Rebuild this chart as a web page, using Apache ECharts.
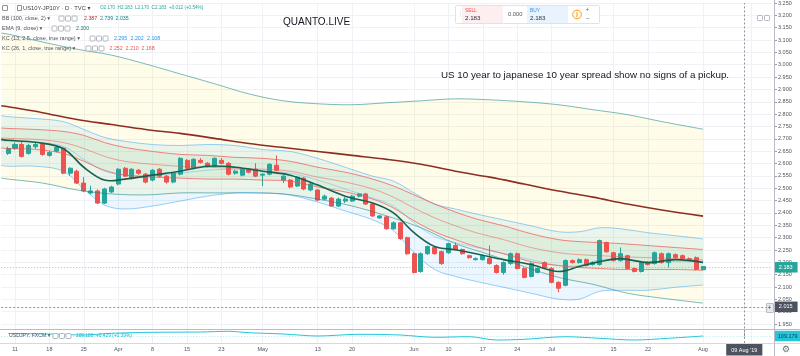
<!DOCTYPE html>
<html>
<head>
<meta charset="utf-8">
<script src="https://cdn.jsdelivr.net/npm/echarts@6.0.0/dist/echarts.min.js"></script>
<style>
html,body{margin:0;padding:0;background:#ffffff;}
#chart{width:800px;height:356px;}
</style>
</head>
<body>
<div id="chart"></div>
<script>
// ---------------- data ----------------
const leadDate = '2019-03-07';
const dates = [
 '2019-03-08','2019-03-11','2019-03-12','2019-03-13','2019-03-14','2019-03-15',
 '2019-03-18','2019-03-19','2019-03-20','2019-03-21','2019-03-22',
 '2019-03-25','2019-03-26','2019-03-27','2019-03-28','2019-03-29',
 '2019-04-01','2019-04-02','2019-04-03','2019-04-04','2019-04-05',
 '2019-04-08','2019-04-09','2019-04-10','2019-04-11','2019-04-12',
 '2019-04-15','2019-04-16','2019-04-17','2019-04-18','2019-04-19',
 '2019-04-23','2019-04-24','2019-04-25','2019-04-26','2019-04-29','2019-04-30',
 '2019-05-01','2019-05-02','2019-05-03',
 '2019-05-06','2019-05-07','2019-05-08','2019-05-09','2019-05-10',
 '2019-05-13','2019-05-14','2019-05-15','2019-05-16','2019-05-17',
 '2019-05-20','2019-05-21','2019-05-22','2019-05-23','2019-05-24',
 '2019-05-28','2019-05-29','2019-05-30','2019-05-31',
 '2019-06-03','2019-06-04','2019-06-05','2019-06-06','2019-06-07',
 '2019-06-10','2019-06-11','2019-06-12','2019-06-13','2019-06-14',
 '2019-06-17','2019-06-18','2019-06-19','2019-06-20','2019-06-21',
 '2019-06-24','2019-06-25','2019-06-26','2019-06-27','2019-06-28',
 '2019-07-01','2019-07-02','2019-07-03','2019-07-05',
 '2019-07-08','2019-07-09','2019-07-10','2019-07-11','2019-07-12',
 '2019-07-15','2019-07-16','2019-07-17','2019-07-18','2019-07-19',
 '2019-07-22','2019-07-23','2019-07-24','2019-07-25','2019-07-26',
 '2019-07-29','2019-07-30','2019-07-31','2019-08-01'
];
const futureDates = ['2019-08-02','2019-08-05','2019-08-06','2019-08-07','2019-08-08','2019-08-09','2019-08-12','2019-08-13','2019-08-14','2019-08-15'];

// [open, close, low, high]
const candles = [
 [2.641,2.661,2.635,2.668],[2.661,2.677,2.655,2.685],[2.677,2.629,2.625,2.690],[2.641,2.673,2.636,2.680],
 [2.668,2.677,2.660,2.684],[2.677,2.637,2.632,2.684],[2.633,2.645,2.628,2.650],[2.650,2.665,2.645,2.672],
 [2.662,2.561,2.557,2.667],[2.561,2.581,2.550,2.585],[2.569,2.521,2.517,2.575],[2.521,2.489,2.484,2.545],
 [2.481,2.489,2.475,2.510],[2.489,2.440,2.436,2.495],[2.440,2.497,2.436,2.502],[2.485,2.505,2.480,2.510],
 [2.517,2.577,2.512,2.581],[2.581,2.549,2.545,2.586],[2.541,2.577,2.535,2.581],[2.573,2.561,2.555,2.578],
 [2.557,2.525,2.520,2.562],[2.533,2.573,2.528,2.578],[2.577,2.549,2.544,2.582],[2.549,2.525,2.519,2.553],
 [2.525,2.561,2.520,2.566],[2.557,2.621,2.552,2.626],[2.613,2.581,2.576,2.618],[2.581,2.617,2.576,2.622],
 [2.613,2.605,2.600,2.622],[2.601,2.589,2.584,2.606],[2.589,2.621,2.585,2.625],[2.613,2.601,2.597,2.622],
 [2.601,2.557,2.552,2.606],[2.561,2.569,2.555,2.575],[2.553,2.577,2.548,2.581],[2.577,2.565,2.560,2.581],
 [2.577,2.549,2.545,2.601],[2.553,2.557,2.509,2.561],[2.557,2.597,2.552,2.601],[2.593,2.573,2.569,2.633],
 [2.533,2.549,2.521,2.553],[2.533,2.505,2.500,2.537],[2.509,2.545,2.505,2.549],[2.541,2.497,2.492,2.545],
 [2.493,2.517,2.488,2.521],[2.493,2.452,2.448,2.497],[2.456,2.468,2.452,2.474],[2.460,2.428,2.424,2.464],
 [2.428,2.456,2.424,2.462],[2.448,2.456,2.440,2.464],[2.448,2.468,2.444,2.473],[2.468,2.477,2.463,2.481],
 [2.477,2.436,2.432,2.481],[2.436,2.388,2.384,2.440],[2.380,2.388,2.376,2.392],[2.384,2.336,2.332,2.389],
 [2.336,2.360,2.332,2.366],[2.360,2.296,2.291,2.364],[2.300,2.235,2.230,2.304],[2.235,2.159,2.155,2.240],
 [2.163,2.235,2.158,2.240],[2.235,2.264,2.230,2.268],[2.260,2.235,2.231,2.264],[2.243,2.195,2.190,2.248],
 [2.239,2.276,2.234,2.280],[2.268,2.252,2.248,2.280],[2.252,2.235,2.231,2.256],[2.227,2.219,2.215,2.231],
 [2.211,2.215,2.207,2.220],[2.211,2.227,2.207,2.232],[2.215,2.195,2.191,2.268],[2.187,2.159,2.155,2.192],
 [2.159,2.199,2.150,2.204],[2.195,2.235,2.190,2.240],[2.235,2.175,2.171,2.240],[2.175,2.139,2.135,2.180],
 [2.143,2.195,2.139,2.200],[2.159,2.175,2.155,2.180],[2.199,2.179,2.175,2.204],[2.175,2.119,2.115,2.180],
 [2.119,2.095,2.079,2.123],[2.107,2.207,2.103,2.212],[2.207,2.199,2.195,2.212],[2.199,2.211,2.195,2.216],
 [2.211,2.187,2.183,2.216],[2.191,2.199,2.187,2.204],[2.191,2.288,2.187,2.292],[2.280,2.243,2.239,2.284],
 [2.239,2.207,2.203,2.243],[2.207,2.235,2.203,2.260],[2.227,2.175,2.171,2.231],[2.175,2.163,2.159,2.179],
 [2.163,2.199,2.159,2.204],[2.199,2.191,2.187,2.204],[2.195,2.239,2.191,2.244],[2.235,2.199,2.195,2.240],
 [2.199,2.235,2.179,2.240],[2.231,2.219,2.215,2.236],[2.227,2.215,2.211,2.232],[2.215,2.211,2.207,2.220],
 [2.219,2.171,2.167,2.224],[2.170,2.183,2.170,2.183]
];

// indicator samples (bar index, -1 = the day before the first visible bar)
const indIdx   = [-1,0,4,8,11,14,17,21,25,29,33,37,41,45,49,53,56,59,62,65,68,72,76,80,83,86,89,93,97,101];
const ema9     = [2.698,2.694,2.686,2.661,2.585,2.533,2.537,2.553,2.569,2.589,2.585,2.569,2.553,2.513,2.468,2.440,2.400,2.320,2.264,2.251,2.235,2.211,2.191,2.163,2.183,2.203,2.215,2.199,2.211,2.200];
const kc13Up   = [2.794,2.790,2.782,2.770,2.738,2.706,2.690,2.677,2.673,2.677,2.673,2.657,2.649,2.621,2.585,2.549,2.529,2.481,2.436,2.416,2.396,2.372,2.348,2.324,2.324,2.340,2.336,2.320,2.308,2.295];
const kc13Mid  = [2.694,2.690,2.686,2.670,2.617,2.569,2.553,2.553,2.561,2.573,2.577,2.569,2.561,2.533,2.497,2.460,2.428,2.360,2.304,2.280,2.260,2.235,2.211,2.187,2.187,2.211,2.211,2.203,2.203,2.202];
const kc13Low  = [2.593,2.589,2.589,2.569,2.497,2.432,2.416,2.428,2.448,2.468,2.481,2.481,2.472,2.444,2.408,2.372,2.328,2.239,2.171,2.143,2.123,2.099,2.075,2.051,2.051,2.083,2.087,2.087,2.099,2.108];
const kc26Up   = [2.744,2.742,2.738,2.730,2.714,2.685,2.665,2.649,2.637,2.633,2.625,2.621,2.609,2.585,2.565,2.537,2.509,2.473,2.436,2.404,2.376,2.348,2.316,2.292,2.284,2.280,2.276,2.268,2.260,2.252];
const kc26Mid  = [2.704,2.702,2.698,2.685,2.661,2.629,2.609,2.597,2.589,2.585,2.581,2.577,2.569,2.545,2.525,2.497,2.464,2.420,2.380,2.348,2.320,2.292,2.260,2.239,2.231,2.227,2.223,2.219,2.215,2.210];
const kc26Low  = [2.663,2.661,2.657,2.641,2.609,2.573,2.553,2.545,2.541,2.537,2.537,2.533,2.529,2.505,2.485,2.456,2.420,2.368,2.324,2.292,2.264,2.235,2.203,2.187,2.179,2.175,2.171,2.171,2.171,2.168];

const bbIdx    = [-1,0,5,10,15,20,25,30,35,40,45,50,55,60,65,70,75,80,85,90,95,101];
const bbUp     = [3.128,3.124,3.092,3.063,3.039,3.003,2.963,2.923,2.882,2.854,2.842,2.838,2.846,2.854,2.862,2.858,2.850,2.838,2.818,2.798,2.770,2.739];
const bbMid    = [2.834,2.830,2.806,2.778,2.758,2.738,2.722,2.702,2.681,2.665,2.649,2.633,2.617,2.597,2.569,2.545,2.517,2.489,2.464,2.436,2.412,2.387];
const bbLow    = [2.541,2.537,2.521,2.493,2.477,2.473,2.481,2.481,2.481,2.477,2.456,2.428,2.388,2.340,2.276,2.231,2.183,2.139,2.111,2.075,2.055,2.035];

const usdIdx   = [0,6,11,15,21,28,32,35,40,45,51,57,62,67,71,75,81,86,91,96,101];
const usdVal   = [110.43,110.18,109.68,110.53,111.03,111.18,111.53,110.83,110.18,109.18,110.03,109.68,108.53,108.83,107.18,107.53,108.83,108.03,107.18,108.03,109.179];

const tickDates  = ['2019-03-11','2019-03-18','2019-03-25','2019-04-01','2019-04-08','2019-04-15','2019-04-23','2019-05-01','2019-05-13','2019-05-20','2019-06-03','2019-06-10','2019-06-17','2019-06-24','2019-07-01','2019-07-15','2019-07-22','2019-08-01','2019-08-12'];
const tickLabels = ['11','18','25','Apr','8','15','23','May','13','20','Jun','10','17','24','Jul','15','22','Aug','12'];

const crossPrice = 2.015;
const crossDate = '2019-08-09';
const crossLabel = "09 Aug '19";

// ---------------- chart ----------------
const FF = '"Liberation Sans", "DejaVu Sans", Arial, sans-serif';
const OFF = 1;
const categories = [leadDate].concat(dates, futureDates);
const labelMap = {};
tickDates.forEach((d, k) => { labelMap[d] = tickLabels[k]; });
const isTick = (idx, val) => Object.prototype.hasOwnProperty.call(labelMap, val);
const lastClose = candles[candles.length - 1][1];

function pts(idxArr, vals) { return idxArr.map((ix, k) => [ix + OFF, vals[k]]); }
function curve(idxArr, vals, color, width) {
  const d = pts(idxArr, vals);
  return {
    type: 'custom', coordinateSystem: 'cartesian2d', xAxisIndex: 0, yAxisIndex: 0,
    z: 4, silent: true, clip: true, data: [d[0]],
    renderItem: function (params, api) {
      return { type: 'polyline', shape: { points: d.map(p => api.coord(p)), smooth: 0.35 },
               style: { stroke: color, lineWidth: width, fill: null } };
    }
  };
}
function band(idxArr, up, lo, color) {
  const u = pts(idxArr, up), l = pts(idxArr, lo).reverse();
  // end points doubled so the closed smooth outline keeps straight ends
  const ring = [u[0]].concat(u, [u[u.length - 1]], [l[0]], l, [l[l.length - 1]]);
  return {
    type: 'custom', coordinateSystem: 'cartesian2d', xAxisIndex: 0, yAxisIndex: 0,
    z: 1, silent: true, clip: true, data: [u[0]],
    renderItem: function (params, api) {
      return { type: 'polygon', shape: { points: ring.map(p => api.coord(p)), smooth: 0.35 },
               style: { fill: color } };
    }
  };
}

function txt(x, y, s, color, size, weight, family) {
  return { type: 'text', x: x, y: y, silent: true, z: 100,
    style: { text: s, fill: color, font: (weight || 'normal') + ' ' + (size || 5.5) + 'px ' + (family || FF), verticalAlign: 'middle', align: 'left' } };
}
function rect(x, y, w, h, fill, stroke, r, z) {
  return { type: 'rect', silent: true, z: z || 99, shape: { x: x, y: y, width: w, height: h, r: r || 0 },
    style: { fill: fill || 'none', stroke: stroke || 'none', lineWidth: 1 } };
}
function hline(x1, x2, y, color) { return { type: 'line', silent: true, z: 50, shape: { x1: x1, y1: y, x2: x2, y2: y }, style: { stroke: color, lineWidth: 1 } }; }
function vline(x, y1, y2, color) { return { type: 'line', silent: true, z: 50, shape: { x1: x, y1: y1, x2: x, y2: y2 }, style: { stroke: color, lineWidth: 1 } }; }
function icons(x0, y) {
  return [rect(x0, y - 2.5, 5, 5, '#fff', '#b4b7bf', 0.8), rect(x0 + 6.5, y - 2.5, 5, 5, '#fff', '#b4b7bf', 0.8), rect(x0 + 13, y - 2.5, 5, 5, '#fff', '#b4b7bf', 0.8)];
}

const gray = '#50535e';
const graphics = [].concat(
  [hline(0, 800, 329.5, '#b9bcc4'), hline(0, 800, 343.5, '#d6d8de'), vline(774.5, 0, 356, '#b9bcc4')],
  // legend row 1
  [rect(2.5, 5.5, 5, 5, '#fff', '#8d9099', 0.5), rect(17.5, 5.5, 4, 5, 'none', '#8d9099', 0),
   txt(23, 8, 'US10Y-JP10Y · D · TVC ▾', '#3f424b', 5.8),
   txt(100, 8, 'O2.170  H2.183  L2.170  C2.183  +0.012 (+0.54%)', '#26a69a', 4.6)],
  // row 2 BB
  [txt(2, 18.5, 'BB (100, close, 2) ▾', gray, 5.5)], icons(59, 18.5),
  [txt(84, 18.5, '2.387', '#b2322a', 5.3), txt(100, 18.5, '2.739', '#138484', 5.3), txt(115.5, 18.5, '2.035', '#138484', 5.3)],
  // row 3 EMA
  [txt(2, 28.5, 'EMA (9, close) ▾', gray, 5.5)], icons(52, 28.5), [txt(76, 28.5, '2.200', '#1e7a64', 5.3)],
  // row 4 KC13
  [txt(2, 38.5, 'KC (13, 2.5, close, true range) ▾', gray, 5.5)], icons(90, 38.5),
  [txt(114, 38.5, '2.295', '#2196f3', 5.3), txt(130.5, 38.5, '2.202', '#2196f3', 5.3), txt(147, 38.5, '2.108', '#2196f3', 5.3)],
  // row 5 KC26
  [txt(2, 48.5, 'KC (26, 1, close, true range) ▾', gray, 5.5)], icons(86, 48.5),
  [txt(109.5, 48.5, '2.252', '#ef5350', 5.3), txt(125.5, 48.5, '2.210', '#ef5350', 5.3), txt(141.5, 48.5, '2.168', '#ef5350', 5.3)],
  // lower pane legend
  [txt(9, 336, 'USDJPY, FXCM ▾', gray, 5.2)], icons(53, 336),
  [txt(76, 336, '109.180  +0.429 (+0.39%)', '#00bcd4', 4.8)],
  // annotations
  [txt(283, 22.5, 'QUANTO.LIVE', '#131722', 10), txt(441, 75, 'US 10 year to japanese 10 year spread show no signs of a pickup.', '#131722', 9.8)],
  // buy/sell widget
  [rect(455.5, 5.5, 144, 18, '#ffffff', '#dfe2e8', 1),
   rect(462, 6, 41, 17, '#fdeef0', 'none', 0), rect(527, 6, 41, 17, '#e9f3fd', 'none', 0),
   txt(457.5, 14.5, '⋮', '#b0b3bb', 6),
   txt(465, 10.5, 'SELL', '#ef5350', 4.8), txt(465, 18, '2.183', '#2a2e39', 6.2),
   txt(508, 14.5, '0.000', '#50535e', 5.8),
   txt(530, 10.5, 'BUY', '#2196f3', 4.8), txt(530, 18, '2.183', '#2a2e39', 6.2),
   { type: 'circle', silent: true, z: 100, shape: { cx: 577, cy: 14.5, r: 4.3 }, style: { fill: '#fff', stroke: '#ff9800', lineWidth: 1 } },
   rect(576.5, 12, 1, 5, '#ff9800', 'none', 0, 101),
   vline(583.5, 6, 23, '#e4e6eb'),
   txt(585.5, 10, '+', '#6a6d78', 6.5), txt(586, 19, '−', '#6a6d78', 6.5)],
  // small top-right icons
  [rect(757.5, 15.5, 5, 5, '#fff', '#b4b7bf', 0.8), rect(764.5, 15.5, 5, 5, '#fff', '#b4b7bf', 0.8)],
  // crosshair price-scale "+" button
  [rect(766.5, 303.5, 7, 9, '#e6e8ec', '#b9bcc4', 0.5), txt(767.6, 308, '+', '#3f424b', 6.5)],
  // gear
  [txt(782, 349.5, '⚙', '#6a6d78', 9, 'normal', '"DejaVu Sans", sans-serif')]
);

const series = [
  band(bbIdx, bbUp, bbLow, 'rgba(255,235,59,0.11)'),
  band(indIdx, kc13Up, kc13Low, 'rgba(33,150,243,0.09)'),
  band(indIdx, kc26Up, kc26Low, 'rgba(76,175,80,0.08)'),
  {
    type: 'candlestick', xAxisIndex: 0, yAxisIndex: 0, z: 2, clip: false, barWidth: 4.5,
    data: candles.map((c, i) => [i + OFF, c[0], c[1], c[2], c[3]]),
    encode: { x: 0, y: [1, 2, 3, 4] },
    itemStyle: { color: '#26a69a', color0: '#ef5350', borderColor: '#26a69a', borderColor0: '#ef5350', borderWidth: 1 },
    markLine: {
      symbol: ['none', 'none'], silent: true, animation: false,
      data: [
        { yAxis: lastClose, lineStyle: { color: 'rgba(38,166,154,0.55)', type: [1, 2], width: 1 },
          label: { show: true, position: 'end', distance: 3, formatter: lastClose.toFixed(3), color: '#ffffff', backgroundColor: '#26a69a', padding: [2.5, 5, 2, 4], fontSize: 5.5, fontFamily: FF } },
        { yAxis: crossPrice, lineStyle: { color: '#8f929b', type: [2, 2], width: 1 },
          label: { show: true, position: 'end', distance: 3, formatter: crossPrice.toFixed(3), color: '#ffffff', backgroundColor: '#4c525e', padding: [2.5, 5, 2, 4], fontSize: 5.5, fontFamily: FF } },
        { xAxis: crossDate, lineStyle: { color: '#8f929b', type: [2, 2], width: 1 }, label: { show: false } }
      ]
    }
  },
  curve(bbIdx, bbUp, 'rgba(19,132,132,0.55)', 1),
  curve(bbIdx, bbLow, 'rgba(19,132,132,0.55)', 1),
  curve(bbIdx, bbMid, '#8d2d22', 1.6),
  curve(indIdx, kc13Up, 'rgba(33,150,243,0.45)', 1),
  curve(indIdx, kc13Low, 'rgba(33,150,243,0.45)', 1),
  curve(indIdx, kc13Mid, 'rgba(33,150,243,0.3)', 1),
  curve(indIdx, kc26Up, 'rgba(239,83,80,0.7)', 1),
  curve(indIdx, kc26Low, 'rgba(239,83,80,0.7)', 1),
  curve(indIdx, kc26Mid, 'rgba(239,83,80,0.5)', 1),
  curve(indIdx, ema9, '#17604e', 1.6),
  {
    type: 'line', xAxisIndex: 1, yAxisIndex: 1, z: 3, clip: false, showSymbol: false, smooth: 0.3,
    data: pts(usdIdx, usdVal),
    lineStyle: { color: '#26c6da', width: 1 },
    markLine: {
      symbol: ['none', 'none'], silent: true, animation: false,
      data: [
        { yAxis: usdVal[usdVal.length - 1], lineStyle: { color: 'rgba(38,198,218,0.35)', type: [1, 2], width: 1 },
          label: { show: true, position: 'end', distance: 3, formatter: usdVal[usdVal.length - 1].toFixed(3), color: '#0b3d45', backgroundColor: '#26c6da', padding: [2.5, 3, 2, 3], fontSize: 5.5, fontFamily: FF } },
        { xAxis: crossDate, lineStyle: { color: '#8f929b', type: [2, 2], width: 1 },
          label: { show: true, position: 'start', distance: 1, formatter: crossLabel, color: '#ffffff', backgroundColor: '#4c525e', padding: [3, 5, 2.5, 5], fontSize: 5.5, fontFamily: FF } }
      ]
    }
  }
];

const chart = echarts.init(document.getElementById('chart'), null, { renderer: 'canvas', width: 800, height: 356 });
chart.setOption({
  animation: false,
  backgroundColor: '#ffffff',
  grid: [
    { left: 1.24, right: 28.2, top: 0.56, height: 335.88 },
    { left: 1.24, right: 28.2, top: 329, height: 14 }
  ],
  xAxis: [
    { type: 'category', gridIndex: 0, data: categories, boundaryGap: false,
      axisLine: { show: false }, axisTick: { show: false }, axisLabel: { show: false },
      splitLine: { show: true, interval: isTick, lineStyle: { color: '#eff1f6', width: 1 } } },
    { type: 'category', gridIndex: 1, data: categories, boundaryGap: false,
      axisLine: { show: false }, axisTick: { show: false },
      axisLabel: { show: true, interval: isTick, formatter: v => labelMap[v] || '', fontSize: 5.5, color: gray, margin: 3, fontFamily: FF },
      splitLine: { show: true, interval: isTick, lineStyle: { color: '#eff1f6', width: 1 } } }
  ],
  yAxis: [
    { type: 'value', gridIndex: 0, position: 'right', offset: 2.2, min: 1.9, max: 3.25, interval: 0.05,
      axisLine: { show: false },
      axisTick: { show: true, length: 3, lineStyle: { color: '#9a9da6' } },
      axisLabel: { fontSize: 5.5, color: gray, margin: 4, fontFamily: FF, showMinLabel: false, formatter: v => v.toFixed(3) },
      splitLine: { show: true, showMinLine: false, lineStyle: { color: '#eff1f6', width: 1 } } },
    { type: 'value', gridIndex: 1, position: 'right', offset: 2.2, min: 105.68, max: 112.68,
      axisLine: { show: false }, axisTick: { show: false }, axisLabel: { show: false }, splitLine: { show: false } }
  ],
  series: series,
  graphic: graphics
});
</script>
</body>
</html>
